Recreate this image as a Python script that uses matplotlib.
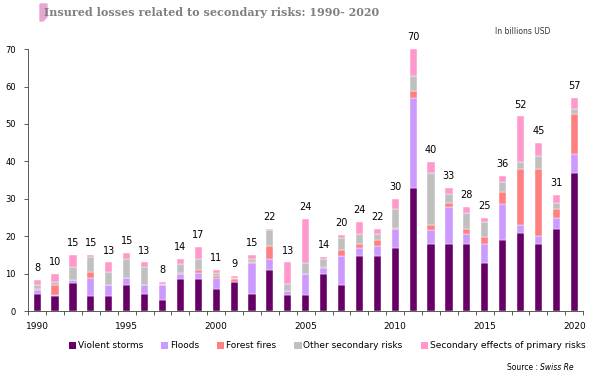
import matplotlib
matplotlib.use("Agg")
import matplotlib.pyplot as plt
import numpy as np
from matplotlib.patches import Patch, Polygon

years = list(range(1990, 2021))
violent_storms = [4.7, 3.9, 7.6, 3.9, 3.9, 6.9, 4.7, 2.9, 8.5, 8.5, 5.9, 7.8, 4.7, 10.9, 4.2, 4.2,
                  9.8, 6.9, 14.8, 14.8, 16.9, 32.9, 17.9, 17.9, 17.9, 12.9, 18.9, 20.9, 17.9, 21.9, 36.8]
floods = [1.0, 0.3, 0.6, 5.0, 3.0, 1.9, 2.2, 4.0, 1.5, 1.8, 3.0, 0.1, 8.2, 3.1, 1.2, 5.6,
          1.7, 7.9, 2.1, 2.6, 5.0, 24.0, 3.9, 10.0, 2.8, 5.0, 9.6, 2.0, 2.1, 3.0, 5.2]
forest_fires = [0.3, 2.9, 0.1, 1.5, 0.1, 0.1, 0.1, 0.1, 0.1, 0.6, 0.5, 0.8, 0.2, 3.4, 0.1, 0.1,
                0.3, 1.5, 0.9, 1.5, 0.4, 1.9, 1.1, 1.0, 1.2, 1.9, 3.4, 15.0, 17.9, 2.5, 10.7]
other_secondary = [0.9, 0.7, 3.5, 4.1, 3.4, 5.1, 4.8, 0.2, 2.6, 3.1, 0.9, 0.2, 0.9, 4.2, 1.8, 3.0,
                   2.2, 3.1, 2.9, 1.8, 5.1, 4.1, 13.9, 2.5, 4.4, 4.0, 2.7, 2.0, 3.5, 1.6, 1.2]
secondary_effects = [1.5, 2.2, 3.1, 0.4, 2.6, 1.5, 1.2, 0.7, 1.3, 3.1, 0.6, 0.6, 0.9, 0.3, 5.7, 11.6,
                     0.5, 1.0, 3.1, 1.2, 2.5, 7.1, 3.0, 1.5, 1.6, 1.1, 1.6, 12.1, 3.6, 2.0, 3.0]
total_labels = [8, 10, 15, 15, 13, 15, 13, 8, 14, 17, 11, 9, 15, 22, 13, 24,
                14, 20, 24, 22, 30, 70, 40, 33, 28, 25, 36, 52, 45, 31, 57]

series = [
    ("Violent storms", violent_storms, "#660066"),
    ("Floods", floods, "#cc99ff"),
    ("Forest fires", forest_fires, "#ff8080"),
    ("Other secondary risks", other_secondary, "#c0c0c0"),
    ("Secondary effects of primary risks", secondary_effects, "#ff99cc"),
]

plt.rcParams["font.family"] = ["DejaVu Sans"]

fig = plt.figure(figsize=(6.0, 3.78), dpi=100)
ax = fig.add_axes([0.047, 0.177, 0.925, 0.693])

x = np.arange(len(years))
bottom = np.zeros(len(years))
for name, values, color in series:
    ax.bar(x, values, width=0.4, bottom=bottom, color=color, edgecolor="white", linewidth=0.3)
    bottom += np.array(values)

for xi, top, label in zip(x, bottom, total_labels):
    ax.annotate(str(label), (xi, top), xytext=(0, 5), textcoords="offset points",
                ha="center", va="bottom", fontsize=7, color="black")

ax.set_xlim(-0.5, len(years) - 0.5)
ax.set_ylim(0, 70)
ax.set_yticks(range(0, 71, 10))
ax.tick_params(axis="y", labelsize=6, length=3, width=0.6, color="#404040", pad=6)
label_idx = [i for i, y in enumerate(years) if y % 5 == 0]
ax.set_xticks(label_idx, [str(years[i]) for i in label_idx])
ax.set_xticks(np.arange(-0.5, len(years), 1), minor=True)
ax.tick_params(axis="x", which="major", length=0, labelsize=6.5, pad=8)
ax.tick_params(axis="x", which="minor", length=3, width=0.6, color="#404040")
for side in ("top", "right"):
    ax.spines[side].set_visible(False)
for side in ("left", "bottom"):
    ax.spines[side].set_color("#404040")
    ax.spines[side].set_linewidth(0.6)

# title with pink mark
fig.patches.append(Polygon([[40 / 600, 1 - 4 / 378], [47 / 600, 1 - 4 / 378], [47 / 600, 1 - 17 / 378],
                            [43 / 600, 1 - 21 / 378], [40 / 600, 1 - 21 / 378]],
                           closed=True, transform=fig.transFigure, color="#e6a8d0", zorder=0))
fig.text(44 / 600, 1 - 13 / 378, "Insured losses related to secondary risks: 1990- 2020",
         fontsize=8, fontweight="bold", family="DejaVu Serif", color="#7f7f7f", va="center")
fig.text(495 / 600, 1 - 32 / 378, "In billions USD", fontsize=5.5, color="#333333", va="center")

handles = [Patch(facecolor=c, edgecolor="none", label=n) for n, _, c in series]
fig.legend(handles=handles, loc="center", bbox_to_anchor=(0.545, 1 - 346 / 378), ncol=5,
           frameon=False, fontsize=6.5, handlelength=0.8, handleheight=0.8,
           handletextpad=0.2, columnspacing=2.0)

fig.text(0.9, 1 - 368 / 378, "Source : ", fontsize=5.5, ha="right", va="center")
fig.text(0.9, 1 - 368 / 378, "Swiss Re", fontsize=5.5, style="italic", ha="left", va="center")

fig.savefig("out.png", dpi=100)
